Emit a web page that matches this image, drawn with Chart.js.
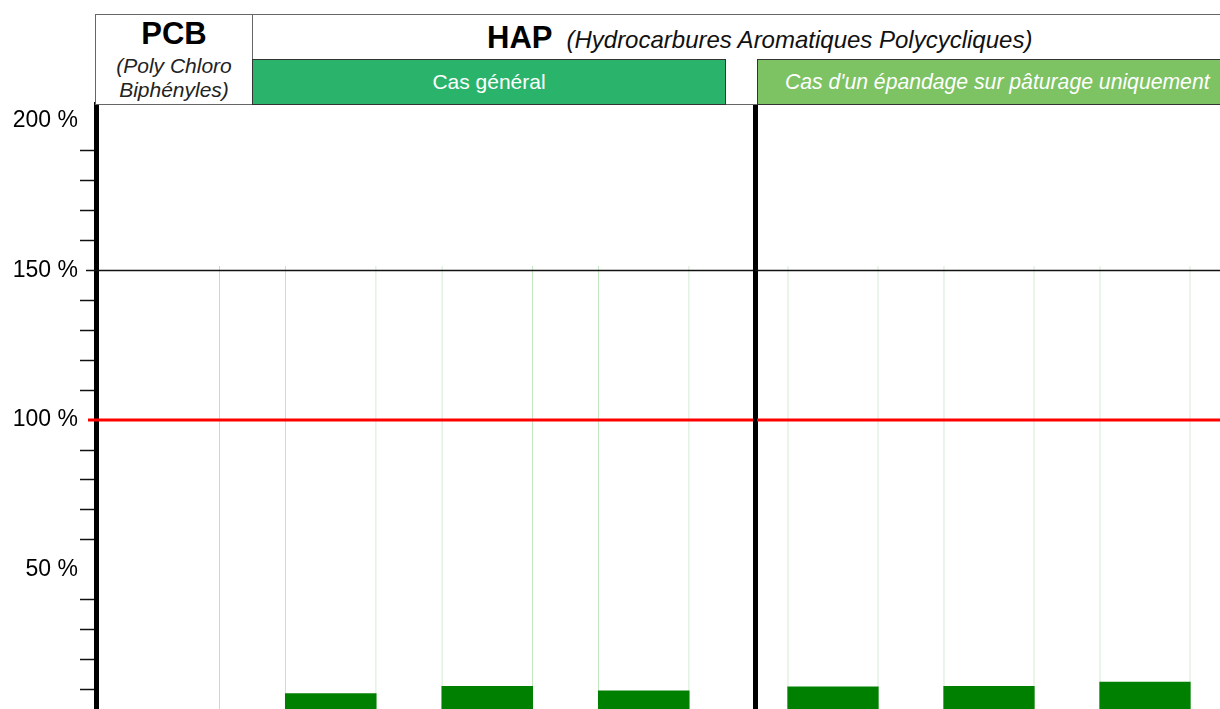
<!DOCTYPE html>
<html>
<head>
<meta charset="utf-8">
<script src="https://cdn.jsdelivr.net/npm/chart.js@4"></script>
<style>
body{margin:0;width:1220px;height:709px;overflow:hidden;position:relative;background:#fff;font-family:"Liberation Sans",Arial,sans-serif;}
#leftWrap{position:absolute;left:0;top:0;width:755px;height:709px}
#rightWrap{position:absolute;left:753px;top:0;width:470px;height:709px}
.box{position:absolute;box-sizing:border-box;}
#pcb{left:95px;top:14px;width:158px;height:91px;border:1.5px solid #666;background:#fff;text-align:center;}
#pcb b{display:block;font-size:31px;line-height:34px;margin-top:2px}
#pcb i{display:block;font-size:21px;line-height:24px;margin-top:3px;color:#222}
#hap{left:252px;top:14px;width:990px;height:91px;border:1.5px solid #666;background:#fff;}
#hapTitle{position:absolute;left:487px;top:20px;line-height:36px;white-space:nowrap;}
#hapTitle b{font-size:31px}
#hapTitle i{font-size:24px;margin-left:14px;color:#111}
#cas1{left:252px;top:59px;width:474px;height:46px;border:1.5px solid #333;background:#2ab46b;color:#fff;font-size:21px;text-align:center;line-height:44px;}
#cas2{left:757px;top:59px;width:480px;height:46px;border:1.5px solid #333;background:#7dc263;color:#fff;font-size:21.2px;font-style:italic;line-height:44px;padding-left:27px;white-space:nowrap;}
</style>
</head>
<body>
<div id="leftWrap"><canvas id="left"></canvas></div>
<div id="rightWrap"><canvas id="right"></canvas></div>
<div class="box" id="hap"></div>
<div class="box" id="pcb"><b>PCB</b><i>(Poly Chloro<br>Biphényles)</i></div>
<div id="hapTitle"><b>HAP</b><i>(Hydrocarbures Aromatiques Polycycliques)</i></div>
<div class="box" id="cas1">Cas général</div>
<div class="box" id="cas2">Cas d'un épandage sur pâturage uniquement</div>
<script>
// values (% of the reference value)
const leftCategories = ['PCB', 'Cas général 1', 'Cas général 2', 'Cas général 3'];
const leftValues = [null, 8.8, 11.2, 9.7];
const rightCategories = ['Pâturage 1', 'Pâturage 2', 'Pâturage 3'];
const rightValues = [11.0, 11.2, 12.6];
const leftFrames = [151.5, 151.5, 151.5, 151.5];
const rightFrames = [151.5, 151.5, 151.5];
const yTickValues = [10, 20, 30, 40, 50, 60, 70, 80, 90, 100, 110, 120, 130, 140, 150, 160, 170, 180, 190, 200];
const yMin = 3.5, yMax = 205.6;
const limitLine = 100, topLine = 150;

const refLines = {
    id: 'refLines',
    afterDatasetsDraw(chart, args, opts) {
        const y = chart.scales.y, ctx = chart.ctx;
        ctx.save();
        opts.lines.forEach(l => {
            const py = y.getPixelForValue(l.value);
            ctx.strokeStyle = l.color;
            ctx.lineWidth = l.width;
            ctx.beginPath();
            ctx.moveTo(chart.chartArea.left - l.overhang, py);
            ctx.lineTo(chart.width, py);
            ctx.stroke();
        });
        ctx.restore();
    }
};

function datasets(values, frames, pcbFirst) {
    return [{
        label: 'Valeur',
        data: values,
        backgroundColor: '#008000',
        borderWidth: 0,
        grouped: false,
        order: 0,
        barPercentage: 0.585,
        categoryPercentage: 1
    }, {
        label: 'Cadre',
        data: frames,
        backgroundColor: 'rgba(255,255,255,0)',
        borderColor: c => (pcbFirst && c.dataIndex === 0) ? '#d4d4d4' : 'rgba(150,210,150,0.55)',
        borderWidth: c => (pcbFirst && c.dataIndex === 0) ? {left: 0, right: 1, top: 0, bottom: 0} : {left: 1, right: 1, top: 0, bottom: 0},
        grouped: false,
        order: 1,
        barPercentage: 0.585,
        categoryPercentage: 1
    }];
}

function lines(overhang) {
    return [
        {value: topLine, color: '#111', width: 1.5, overhang: overhang},
        {value: limitLine, color: '#ff0000', width: 3, overhang: overhang - 2}
    ];
}

Chart.defaults.font.family = '"Liberation Sans", Arial, sans-serif';

new Chart(document.getElementById('left'), {
    type: 'bar',
    data: {labels: leftCategories, datasets: datasets(leftValues, leftFrames, true)},
    plugins: [refLines],
    options: {
        responsive: true,
        maintainAspectRatio: false,
        animation: false,
        layout: {padding: {top: 104, right: 33, bottom: 0, left: 0}},
        scales: {
            x: {display: false},
            y: {
                min: yMin,
                max: yMax,
                z: 1,
                afterFit: s => { s.width = 96; s.paddingTop = 0; s.paddingBottom = 0; },
                afterBuildTicks: s => { s.ticks = yTickValues.map(v => ({value: v})); },
                ticks: {
                    color: '#000',
                    padding: 2,
                    font: {size: 23},
                    callback: v => v % 50 === 0 ? v + ' %' : ''
                },
                grid: {
                    drawOnChartArea: false,
                    tickLength: 16,
                    tickWidth: 1.5,
                    tickColor: c => {
                        const v = c.tick.value;
                        return (v % 50 === 0) ? 'rgba(0,0,0,0)' : '#111';
                    }
                },
                border: {color: '#000', width: 5}
            }
        },
        plugins: {
            legend: {display: false},
            tooltip: {enabled: false},
            refLines: {lines: lines(10)}
        }
    }
});

new Chart(document.getElementById('right'), {
    type: 'bar',
    data: {labels: rightCategories, datasets: datasets(rightValues, rightFrames, false)},
    plugins: [refLines],
    options: {
        responsive: true,
        maintainAspectRatio: false,
        animation: false,
        layout: {padding: {top: 104, right: 0, bottom: 0, left: 0}},
        scales: {
            x: {display: false},
            y: {
                min: yMin,
                max: yMax,
                z: 1,
                afterFit: s => { s.width = 2; s.paddingTop = 0; s.paddingBottom = 0; },
                ticks: {display: false},
                grid: {drawOnChartArea: false, drawTicks: false},
                border: {color: '#000', width: 5}
            }
        },
        plugins: {
            legend: {display: false},
            tooltip: {enabled: false},
            refLines: {lines: lines(0)}
        }
    }
});
</script>
</body>
</html>
